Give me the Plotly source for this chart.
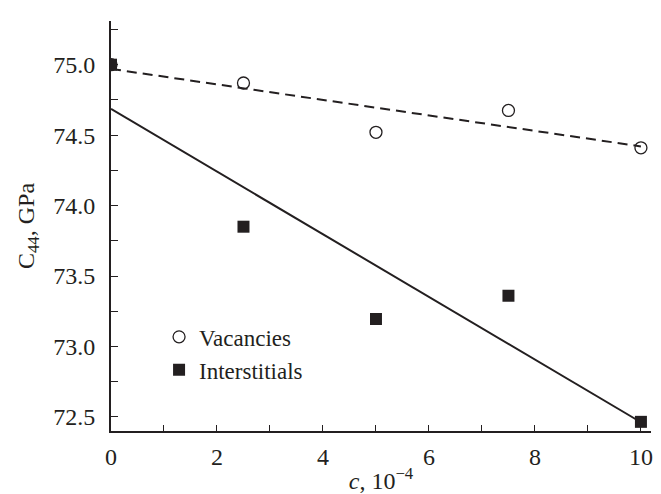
import numpy as np
import plotly.graph_objects as go

c_vals = [0, 2.5, 5, 7.5, 10]
vacancies = [75.0, 74.87, 74.52, 74.675, 74.41]
interstitials = [75.0, 73.85, 73.195, 73.36, 72.465]
x_tick_vals = [0, 2, 4, 6, 8, 10]
y_tick_vals = [72.5, 73.0, 73.5, 74.0, 74.5, 75.0]

INK = "#231f20"
FONT = "Liberation Serif"

xfit = np.array([min(c_vals), max(c_vals)])
pv = np.polyfit(c_vals, vacancies, 1)
pi = np.polyfit(c_vals, interstitials, 1)

fig = go.Figure()
fig.add_trace(go.Scatter(x=xfit, y=np.polyval(pv, xfit), mode="lines",
                         line=dict(color=INK, width=2, dash="10px,6px"),
                         showlegend=False, hoverinfo="skip"))
fig.add_trace(go.Scatter(x=xfit, y=np.polyval(pi, xfit), mode="lines",
                         line=dict(color=INK, width=2),
                         showlegend=False, hoverinfo="skip"))
fig.add_trace(go.Scatter(x=c_vals, y=vacancies, mode="markers", name="Vacancies",
                         marker=dict(symbol="circle-open", size=12, color=INK,
                                     line=dict(width=1.3, color=INK))))
fig.add_trace(go.Scatter(x=c_vals, y=interstitials, mode="markers", name="Interstitials",
                         marker=dict(symbol="square", size=12, color=INK)))

tick_font = dict(family=FONT, size=24, color=INK)

fig.update_layout(
    width=661, height=494,
    margin=dict(l=103, r=18, t=13, b=67),
    paper_bgcolor="white", plot_bgcolor="white",
    font=dict(family=FONT, size=22, color=INK),
    legend=dict(x=0.089, y=0.282, xanchor="left", yanchor="top",
                bgcolor="rgba(0,0,0,0)", font=dict(family=FONT, size=23, color=INK),
                tracegroupgap=0),
    xaxis=dict(range=[0, 10.19], tickvals=x_tick_vals, ticks="inside", ticklen=6,
               tickwidth=1.3, tickcolor=INK, tickfont=tick_font, ticklabelstandoff=3,
               showline=True, linewidth=2, linecolor=INK,
               showgrid=False, zeroline=False,
               minor=dict(dtick=1, tick0=0, ticks="inside", ticklen=6, tickwidth=1.3,
                          tickcolor=INK, showgrid=False),
               title=dict(text="<i>c</i>, 10<sup>\u22124</sup>", standoff=3,
                          font=dict(family=FONT, size=24, color=INK))),
    yaxis=dict(range=[72.40, 75.31], tickvals=y_tick_vals, tickformat=".1f",
               ticks="inside", ticklen=7, tickwidth=1.3, tickcolor=INK, tickfont=tick_font,
               ticklabelstandoff=9,
               showline=True, linewidth=2, linecolor=INK, showgrid=False, zeroline=False,
               minor=dict(dtick=0.25, tick0=72.5, ticks="inside", ticklen=7, tickwidth=1.3,
                          tickcolor=INK, showgrid=False),
               title=dict(text="C<sub>44</sub>, GPa", standoff=12,
                          font=dict(family=FONT, size=24, color=INK))),
)

fig.write_html("out.html")
